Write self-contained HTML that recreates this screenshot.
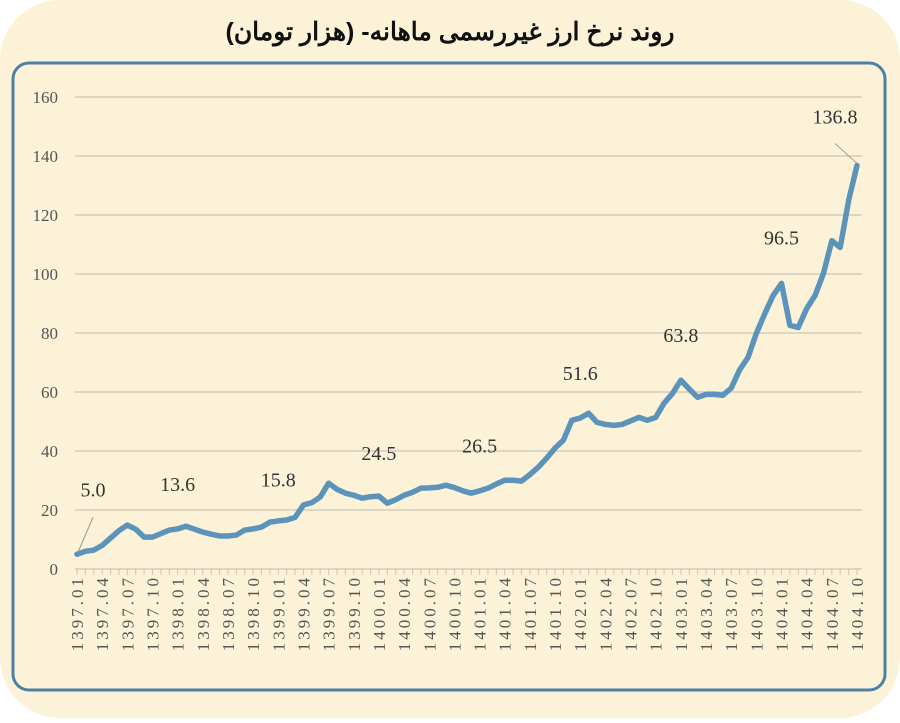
<!DOCTYPE html>
<html><head><meta charset="utf-8"><style>
html,body{margin:0;padding:0;background:#fff;}
body{width:900px;height:718px;overflow:hidden;}
</style></head><body>
<svg width="900" height="718" viewBox="0 0 900 718" id="svg">
<rect x="0" y="0" width="900" height="718" rx="60" fill="#fcf2d8"/>
<text x="450" y="40" text-anchor="middle" font-family="'Liberation Sans','Noto Sans CJK SC',sans-serif" font-weight="bold" font-size="25" fill="#111" direction="rtl">روند نرخ ارز غیررسمی ماهانه- (هزار تومان)</text>
<rect x="13" y="63" width="872" height="627" rx="16" fill="#fcf2d8" stroke="#4e80a6" stroke-width="3"/>
<g id="grid"></g><g id="ticks"></g><g id="ylab"></g><g id="xlab"></g><g id="line"></g><g id="ann"></g>
</svg>
<script>
const yTicks=[0,20,40,60,80,100,120,140,160];
const years=[1397,1398,1399,1400,1401,1402,1403,1404];
const values=[5.0,6,6.4,8,10.5,13,14.9,13.5,10.8,10.8,12,13.2,13.6,14.5,13.5,12.5,11.8,11.2,11.2,11.5,13.2,13.6,14.2,15.9,16.3,16.6,17.5,21.7,22.5,24.4,29.1,27,25.7,25,24,24.5,24.7,22.3,23.5,25,26,27.4,27.5,27.7,28.4,27.6,26.5,25.7,26.5,27.4,28.8,30.1,30.1,29.8,32,34.5,37.6,41,43.7,50.4,51.2,52.8,49.7,49,48.7,49,50.2,51.4,50.4,51.4,56.2,59.5,64,61,58.2,59.2,59.2,58.9,61.3,67.5,71.7,79.9,86.5,92.7,96.8,82.6,81.9,88.3,92.7,100.2,111.3,109,124.9,136.8];
const annIdx=[0,12,24,36,48,60,72,84,93];
const annText=["5.0","13.6","15.8","24.5","26.5","51.6","63.8","96.5","136.8"];
const annVal=[24.5,26.5,28,37,39.5,64,77,110,151];
const ns="http://www.w3.org/2000/svg";
const x0=77,x1=857,n=values.length;
const X=i=>x0+(x1-x0)*i/(n-1);
const Y=v=>569-v*(569-97)/160;
function mk(t,a,p){const e=document.createElementNS(ns,t);for(const k in a)e.setAttribute(k,a[k]);document.getElementById(p).appendChild(e);return e;}
const serif="'Liberation Serif',serif";
yTicks.forEach(v=>{
 const l=mk('line',{x1:75,x2:862,y1:Y(v),y2:Y(v),stroke:'#ddd6c4','stroke-width':2},'grid');
 
 
 const t=mk('text',{x:58,y:Y(v)+6,'text-anchor':'end','font-family':serif,'font-size':17,fill:'#555'},'ylab');
 t.textContent=v;
 
 
});
for(let i=0;i<n;i++){
 const l=mk('line',{x1:X(i),x2:X(i),y1:569,y2:575,stroke:'#ccc5b3','stroke-width':1},'ticks');
 
 
 if(i%3===0){
  const yr=years[Math.floor(i/12)],m=String(i%12+1).padStart(2,'0');
  const t=mk('text',{x:0,y:0,transform:`translate(${X(i)+6},575) rotate(-90)`,'text-anchor':'end','font-family':serif,'font-size':17,'letter-spacing':3,fill:'#555'},'xlab');
  t.textContent=yr+'.'+m;
  
  
 }
}
const p=mk('polyline',{points:values.map((v,i)=>X(i)+','+Y(v)).join(' '),fill:'none',stroke:'#5b93bb','stroke-width':5.5,'stroke-linejoin':'round','stroke-linecap':'round'},'line');


annIdx.forEach((idx,k)=>{
 let ax=X(idx)+(k===0?16:0);
 if(k===8) ax=X(idx)-22;
 const t=mk('text',{x:ax,y:Y(annVal[k]),'text-anchor':'middle','font-family':serif,'font-size':20,fill:'#333'},'ann');
 t.textContent=annText[k];
 
 
});
const l1=mk('line',{x1:X(0)+1,y1:Y(values[0])-2,x2:X(0)+16,y2:Y(values[0])-37,stroke:'#999','stroke-width':1},'ann');


const l2=mk('line',{x1:X(n-1),y1:Y(values[n-1])-2,x2:X(n-1)-22,y2:Y(values[n-1])-22,stroke:'#999','stroke-width':1},'ann');


</script>
</body></html>
